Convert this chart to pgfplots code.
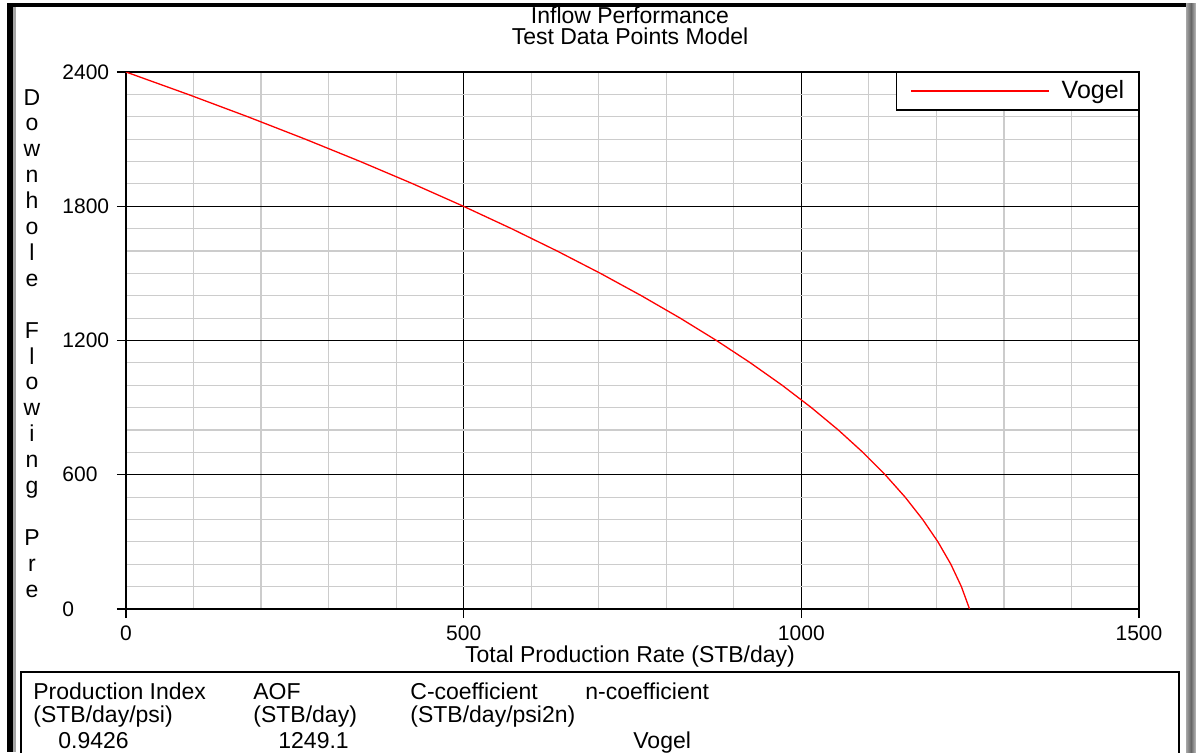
\documentclass[border=0pt]{standalone}
\usepackage{pgfplots}
\pgfplotsset{compat=1.18}
\usepackage{fontspec}
\setmainfont{Liberation Sans}
\newcommand\txt{\fontsize{11.5}{13}\selectfont}
\newcommand\tck{\fontsize{10.5}{12}\selectfont}
\newcommand\lgd{\fontsize{12.5}{14}\selectfont}

\begin{document}
\begin{tikzpicture}
\path[use as bounding box] (0,0) rectangle (598pt,-376pt);
\fill[white] (0,0) rectangle (598pt,-376pt);

\begin{axis}[
    at={(63pt,-304.5pt)}, anchor=south west,
    scale only axis,
    width=506.5pt, height=268.5pt,
    xmin=0, xmax=1500, ymin=0, ymax=2400,
    xtick={0,500,1000,1500},
    ytick={0,600,1200,1800,2400},
    minor x tick num=4, minor y tick num=5,
    grid=both,
    major grid style={black, line width=0.6pt},
    minor grid style={black!20, line width=0.6pt},
    axis line style={line width=0.8pt},
    tick style={black, line width=0.7pt},
    tick align=outside, xtick pos=bottom, ytick pos=left,
    major tick length=4.5pt, minor tick length=0pt,
    /pgf/number format/assume math mode=true,
    /pgf/number format/1000 sep={},
    ticklabel style={font=\tck},
    xticklabel style={anchor=center, yshift=-7.5pt},
    yticklabel style={anchor=west, inner sep=0pt, xshift=-27.5pt},
    legend style={at={(1,1)}, anchor=north east, draw=black, line width=0.7pt,
        inner xsep=3.5pt, inner ysep=2pt, font=\lgd,
        nodes={inner xsep=3.5pt, inner ysep=2pt}},
    legend image code/.code={
        \path (0pt,0pt) (75pt,0pt);
        \draw[color=red, line width=1pt] (3.5pt,0pt) -- (72.5pt,0pt);},
]
\addplot[red, line width=0.65pt] coordinates {
(0,2400) (91.9,2300) (180.4,2200) (265.4,2100) (347.0,2000) (425.1,1900)
(499.6,1800) (570.8,1700) (638.4,1600) (702.6,1500) (763.3,1400) (820.6,1300)
(874.4,1200) (924.7,1100) (971.6,1000) (1014.9,900) (1054.8,800) (1091.2,700)
(1124.2,600) (1153.7,500) (1179.7,400) (1202.3,300) (1221.4,200) (1237.0,100)
(1249.1,0)};
\addlegendentry{Vogel}
\end{axis}

\begin{scope}[x=0.5pt, y=-0.5pt]
% window frame
\fill[black] (7,3) rectangle (13,752);
\fill[black!35] (13,7) rectangle (16,752);
\fill[black] (7,3) rectangle (1187,7);
\shade[left color=black!35, right color=black!60] (1186,3) rectangle (1191,752);
\shade[left color=black!60, right color=black!25] (1191,3) rectangle (1196,752);
% titles
\node[font=\txt, inner sep=0pt] at (630,15) {Inflow Performance};
\node[font=\txt, inner sep=0pt] at (630,36) {Test Data Points Model};
\node[font=\txt] at (630,657) {Total Production Rate (STB/day)};
% stacked y label
\foreach \c [count=\i from 0] in {D,o,w,n,h,o,l,e,{},F,l,o,w,i,n,g,{},P,r,e}
  \node[font=\txt, anchor=base] at (32,105+25.9*\i) {\c};
% result table
\draw[line width=0.75pt] (21,760) -- (21,672) -- (1179,672) -- (1179,760);
\node[font=\txt, anchor=base west, inner sep=0pt] at (33,699) {Production Index};
\node[font=\txt, anchor=base west, inner sep=0pt] at (253,699) {AOF};
\node[font=\txt, anchor=base west, inner sep=0pt] at (410,699) {C-coefficient};
\node[font=\txt, anchor=base west, inner sep=0pt] at (585,699) {n-coefficient};
\node[font=\txt, anchor=base west, inner sep=0pt] at (33,722) {(STB/day/psi)};
\node[font=\txt, anchor=base west, inner sep=0pt] at (253,722) {(STB/day)};
\node[font=\txt, anchor=base west, inner sep=0pt] at (410,722) {(STB/day/psi2n)};
\node[font=\txt, anchor=base west, inner sep=0pt] at (58,748) {0.9426};
\node[font=\txt, anchor=base west, inner sep=0pt] at (278,748) {1249.1};
\node[font=\txt, anchor=base west, inner sep=0pt] at (633,748) {Vogel};
\end{scope}
\end{tikzpicture}
\end{document}
